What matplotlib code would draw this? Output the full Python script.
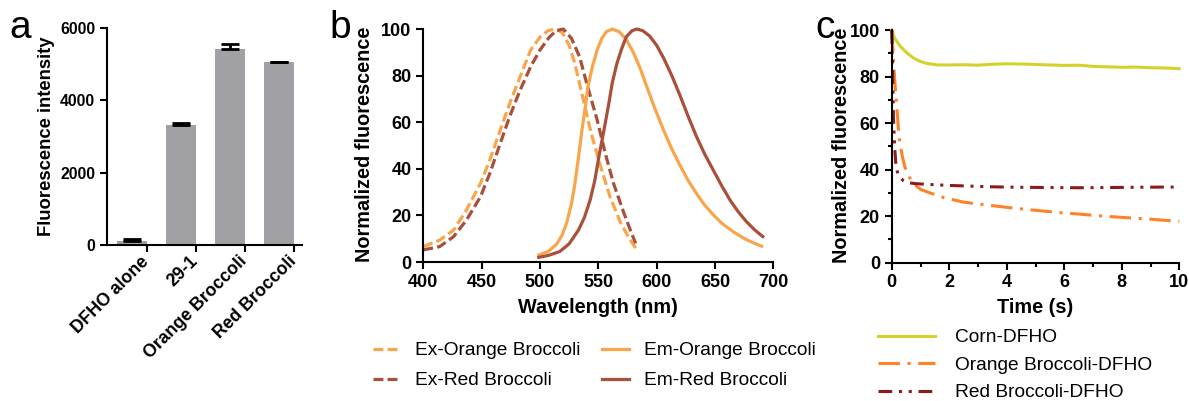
import numpy as np
import matplotlib
matplotlib.use("Agg")
import matplotlib.pyplot as plt
from matplotlib.ticker import MultipleLocator

plt.rcParams['font.family'] = ['Liberation Sans', 'DejaVu Sans']

# panel a
samples = ["DFHO alone", "29-1", "Orange Broccoli", "Red Broccoli"]
intensity = [120, 3313, 5411, 5052]
intensity_err = [45, 60, 140, 20]

# panel b spectra
ex_orange_nm = [400, 414, 426, 437, 449, 457, 466, 474, 483, 492, 500, 507, 513, 519, 525, 530, 537, 544, 552, 560, 569, 576, 582]
ex_orange = [6.6, 9.4, 13.7, 22.3, 33.8, 43.8, 56.7, 68, 79.5, 91, 96.5, 99.3, 100, 98.5, 93, 85, 70, 55, 41, 28, 17, 10.5, 6]
ex_red_nm = [400, 414, 426, 437, 449, 457, 466, 474, 483, 492, 500, 508, 514, 520, 527, 534, 541, 549, 556, 563, 572, 578, 582]
ex_red = [5.2, 6.6, 10.9, 18, 28, 38, 51, 62.4, 73.8, 83.8, 91, 96.5, 99.3, 100, 96, 88, 75, 61, 46.6, 33.8, 20.9, 13, 8]
em_orange_nm = [499, 507, 514, 519, 523, 527, 530, 533, 536, 539, 541, 545, 549, 553, 557, 562, 568, 574, 580, 586,
                591, 598, 606, 613, 620, 627, 634, 641, 649, 656, 663, 670, 677, 684, 690]
em_orange = [3, 4.5, 7.5, 11.5, 17, 25, 33.8, 45, 56.7, 67, 75, 84, 91, 96, 98.9, 100, 98.8, 95.5, 90, 83,
             76, 66.5, 56.5, 48.5, 41.5, 35, 29.5, 24.5, 20, 16.6, 13.9, 11.6, 9.6, 8, 6.8]
em_red_nm = [499, 507, 517, 525, 533, 538, 543, 547, 551, 555, 559, 562, 566, 570, 574, 579, 583, 588, 594,
             600, 606, 613, 620, 627, 634, 641, 649, 656, 663, 670, 677, 684, 691]
em_red = [2, 2.8, 4.5, 7.8, 13.7, 19, 26.6, 35, 46.6, 57, 68, 77, 85.3, 91.5, 96.7, 99.3, 100, 99.3, 97,
          93, 87.5, 80, 71.5, 62.5, 54, 46.5, 39, 32.5, 26.5, 21.5, 17.3, 13.8, 10.9]

# panel c photobleaching
t_corn = [0, 0.1, 0.3, 0.5, 0.75, 1.0, 1.2, 1.6, 2.0, 2.5, 3.0, 3.5, 4.0, 4.5, 5.0, 5.5, 6.0, 6.5, 7.0, 7.5, 8.0, 8.5, 9.0, 9.5, 10.0]
corn = [100, 96.5, 93, 90.5, 88, 86.5, 85.7, 85, 85, 85.1, 84.9, 85.3, 85.5, 85.4, 85.2, 85, 84.8, 84.9, 84.4, 84.2, 84, 84.1, 83.8, 83.7, 83.4]
t_orange = [0, 0.04, 0.08, 0.12, 0.17, 0.23, 0.29, 0.37, 0.46, 0.6, 0.75, 1.0, 1.33, 1.8, 2.5, 3.3, 4.2, 5.0, 5.85, 6.6, 7.36, 8.1, 8.87, 9.4, 10.0]
orange = [100, 92, 83, 75.6, 68, 58, 51, 45.5, 41, 37, 34, 31.5, 30, 28, 26, 24.8, 23.5, 22.5, 21.5, 20.8, 20, 19.4, 18.8, 18.3, 17.8]
t_red = [0, 0.03, 0.06, 0.1, 0.15, 0.22, 0.3, 0.4, 0.52, 0.8, 1.33, 2.0, 2.5, 3.5, 4.5, 5.5, 6.5, 7.5, 8.5, 9.5, 10.0]
red = [100, 83, 62, 50, 41, 38, 36.5, 35.3, 34.5, 34, 33.6, 33.2, 33, 32.6, 32.4, 32.3, 32.2, 32.3, 32.4, 32.5, 32.5]

c_light = "#F8A54C"
c_brown = "#A8503A"
c_corn = "#D4D22A"
c_orng = "#FF8226"
c_dred = "#8A1C1C"

fig = plt.figure(figsize=(11.89, 4.01), dpi=100)

def style(ax, size):
    for s in ["top", "right"]:
        ax.spines[s].set_visible(False)
    for s in ["left", "bottom"]:
        ax.spines[s].set_linewidth(1.5)
    ax.tick_params(width=1.5, length=5, labelsize=size)
    for lab in ax.get_xticklabels() + ax.get_yticklabels():
        lab.set_fontweight("bold")

# ---- a
ax1 = fig.add_axes([0.090, 0.389, 0.164, 0.541])
pos = np.arange(len(samples))
ax1.bar(pos, intensity, width=0.62, color="#A0A0A5")
ax1.errorbar(pos, intensity, yerr=[np.zeros(4), intensity_err], fmt="none",
             ecolor="black", elinewidth=2, capsize=6.5, capthick=2)
ax1.set_xlim(-0.51, 3.47)
ax1.set_ylim(0, 6000)
ax1.set_yticks([0, 2000, 4000, 6000])
# tick marks are hidden, so the label anchors sit a little right of the bars
ax1.set_xticks(pos + 0.3)
ax1.set_xticklabels(samples, rotation=45, ha="right", va="center", rotation_mode="anchor")
ax1.tick_params(axis="x", length=0, pad=5)
ax1.set_ylabel("Fluorescence intensity", fontsize=13.3, fontweight="bold")
style(ax1, 11.3)
for lab in ax1.get_xticklabels():
    lab.set_fontsize(12.7)

# ---- b
ax2 = fig.add_axes([0.3560, 0.3466, 0.2944, 0.581])
ax2.plot(ex_orange_nm, ex_orange, color=c_light, lw=2.3, ls=(0, (3.1, 1.3)), label="Ex-Orange Broccoli", clip_on=False)
ax2.plot(ex_red_nm, ex_red, color=c_brown, lw=2.3, ls=(0, (3.1, 1.3)), label="Ex-Red Broccoli", clip_on=False)
ax2.plot(em_orange_nm, em_orange, color=c_light, lw=2.3, label="Em-Orange Broccoli", clip_on=False)
ax2.plot(em_red_nm, em_red, color=c_brown, lw=2.3, label="Em-Red Broccoli", clip_on=False)
ax2.set_xlim(400, 700)
ax2.set_ylim(0, 100)
ax2.set_xticks(np.arange(400, 701, 50))
ax2.set_yticks(np.arange(0, 101, 20))
ax2.set_xlabel("Wavelength (nm)", fontsize=14.3, fontweight="bold", labelpad=5)
ax2.set_ylabel("Normalized fluorescence", fontsize=14.3, fontweight="bold")
ax2.yaxis.set_label_coords(-0.141, 0.504)
style(ax2, 13)
h, l = ax2.get_legend_handles_labels()
fig.legend(h, l, loc="upper left", bbox_to_anchor=(0.3137, 0.147), ncol=2, frameon=False,
           fontsize=13.8, handlelength=1.4, handletextpad=0.78, columnspacing=1.15,
           labelspacing=0.65, borderaxespad=0, borderpad=0)

# ---- c
ax3 = fig.add_axes([0.750, 0.345, 0.2418, 0.580])
ax3.plot(t_corn, corn, color=c_corn, lw=2.2, label="Corn-DFHO", clip_on=False)
ax3.plot(t_orange, orange, color=c_orng, lw=2.2, ls=(0, (7, 2.5, 1, 2.5)), label="Orange Broccoli-DFHO", clip_on=False)
ax3.plot(t_red, red, color=c_dred, lw=2.2, ls=(0, (4.5, 2.2, 1, 2.2, 1, 2.2)), label="Red Broccoli-DFHO", clip_on=False)
ax3.set_xlim(0, 10)
ax3.set_ylim(0, 100)
ax3.set_xticks(np.arange(0, 11, 2))
ax3.set_yticks(np.arange(0, 101, 20))
ax3.xaxis.set_minor_locator(MultipleLocator(1))
ax3.yaxis.set_minor_locator(MultipleLocator(10))
ax3.tick_params(which="minor", width=1.5, length=3)
ax3.set_xlabel("Time (s)", fontsize=14.3, fontweight="bold", labelpad=5)
ax3.set_ylabel("Normalized fluorescence", fontsize=14.3, fontweight="bold")
ax3.yaxis.set_label_coords(-0.1416, 0.505)
style(ax3, 13)
h, l = ax3.get_legend_handles_labels()
fig.legend(h, l, loc="upper left", bbox_to_anchor=(0.7384, 0.18), ncol=1, frameon=False,
           fontsize=13.8, handlelength=2.97, handletextpad=1.04,
           labelspacing=0.53, borderaxespad=0, borderpad=0)

fig.text(0.008, 0.975, "a", fontsize=28, va="top")
fig.text(0.277, 0.975, "b", fontsize=28, va="top")
fig.text(0.686, 0.975, "c", fontsize=28, va="top")

fig.savefig("out.png", dpi=100)
